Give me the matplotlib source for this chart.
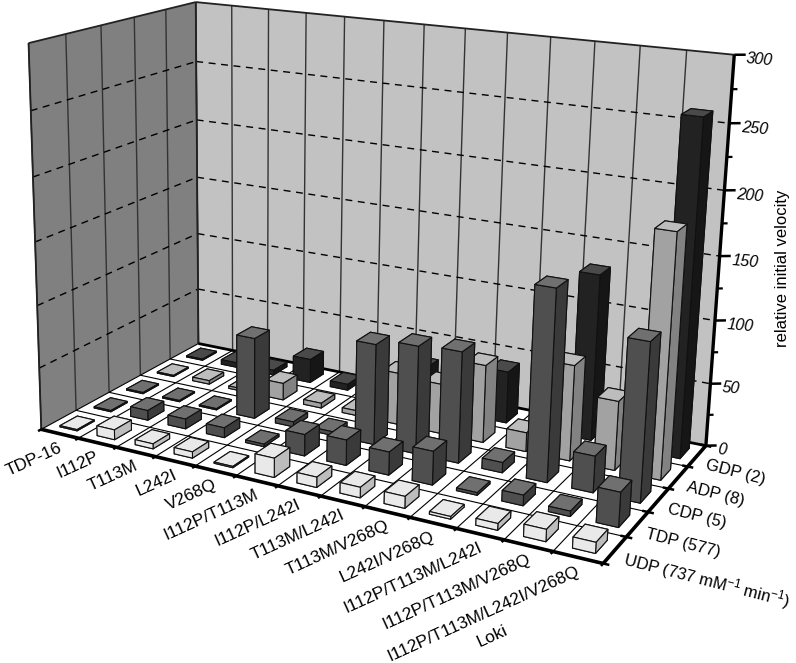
import matplotlib
matplotlib.use("Agg")
import matplotlib.pyplot as plt
import numpy as np
from mpl_toolkits.mplot3d.art3d import Line3DCollection, Poly3DCollection

plt.rcParams["font.family"] = ["Liberation Sans", "DejaVu Sans"]
plt.rcParams["mathtext.default"] = "regular"

variants = ["TDP-16", "I112P", "T113M", "L242I", "V268Q", "I112P/T113M", "I112P/L242I",
            "T113M/L242I", "T113M/V268Q", "L242I/V268Q", "I112P/T113M/L242I",
            "I112P/T113M/V268Q", "I112P/T113M/L242I/V268Q"]
substrates = ["UDP (737 mM$^{-1}$ min$^{-1}$)", "TDP (577)", "CDP (5)", "ADP (8)", "GDP (2)"]

udp = [1, 8, 4, 5, 1, 15, 8, 8, 9, 2, 5, 9, 8]
tdp = [1, 8, 8, 8, 2, 17, 20, 18, 26, 2, 8, 4, 26]
cdp = [1, 1, 1, 66, 4, 3, 80, 85, 87, 8, 147, 28, 120]
adp = [1, 3, 2, 14, 4, 4, 42, 40, 62, 15, 75, 54, 187]
gdp = [1, 4, 4, 20, 5, 5, 32, 5, 42, 5, 132, 5, 260]
rows = [udp, tdp, cdp, adp, gdp]

z_ticks = [0, 50, 100, 150, 200, 250, 300]
z_minor = [25, 75, 125, 175, 225, 275]

# top, left side, right side
row_colors = [("#e9e9e9", "#e9e9e9", "#bdbdbd"),
              ("#707070", "#4f4f4f", "#3a3a3a"),
              ("#707070", "#4f4f4f", "#3a3a3a"),
              ("#bdbdbd", "#a2a2a2", "#828282"),
              ("#4a4a4a", "#222222", "#161616")]

n_col = len(variants)
n_row = len(substrates)
W, H = 796, 663

# calibration of the view: box corners -> image pixels
calib = [((0, 0, 0), (41, 429)), ((n_col, 0, 0), (603, 564)), ((n_col, n_row, 0), (706, 446)),
         ((0, n_row, 0), (199, 344)), ((0, 0, 300), (29, 43)), ((0, n_row, 300), (195, 2)),
         ((n_col, n_row, 300), (735, 57)), ((n_col, n_row, 50), (710, 383)),
         ((n_col, n_row, 250), (729, 121))]


def fit_camera(points):
    A, b = [], []
    for (x, y, z), (u, v) in points:
        v = H - v
        A.append([x, y, z, 1, 0, 0, 0, 0, -u * x, -u * y, -u * z])
        A.append([0, 0, 0, 0, x, y, z, 1, -v * x, -v * y, -v * z])
        b += [u, v]
    p = np.linalg.lstsq(np.array(A, float), np.array(b, float), rcond=None)[0]
    return np.append(p, 1).reshape(3, 4)


cam = fit_camera(calib)


def label(x, y, z, text, dx=0, dy=0, **kw):
    u, v, w = cam @ [x, y, z, 1]
    fig.text((u / w + dx) / W, (v / w - dy) / H, text, **kw)


fig = plt.figure(figsize=(W / 100, H / 100), dpi=100)
ax = fig.add_axes([0, 0, 1, 1], projection="3d", computed_zorder=False)
ax.apply_aspect = lambda position=None: None
ax.set_axis_off()


def get_proj():
    m = ax.transData.inverted().get_matrix() @ cam
    return np.array([m[0], m[1], [-1.0, 1.0, -0.01, 0.0], m[2]])


ax.get_proj = get_proj


def wall(xs, ys, zs, color):
    ax.add_collection3d(Poly3DCollection([list(zip(xs, ys, zs))], facecolor=color,
                                         edgecolor="none", zorder=1))


def lines(segs, color="black", lw=1.0, ls="solid", zorder=3):
    ax.add_collection3d(Line3DCollection(segs, colors=color, linewidths=lw, linestyles=ls,
                                         zorder=zorder))


wall([0, 0, 0, 0], [0, n_row, n_row, 0], [0, 0, 300, 300], "#808080")
wall([0, n_col, n_col, 0], [n_row, n_row, n_row, n_row], [0, 0, 300, 300], "#c2c2c2")
wall([0, n_col, n_col, 0], [0, 0, n_row, n_row], [0, 0, 0, 0], "#ffffff")

# wall grid
lines([[(c, n_row, 0), (c, n_row, 300)] for c in range(n_col + 1)], color="#333333", zorder=2)
lines([[(0, r, 0), (0, r, 300)] for r in range(n_row + 1)], color="#333333", zorder=2)
dash = (0, (5, 4))
lines([[(0, 0, z), (0, n_row, z)] for z in z_ticks[1:-1]], ls=dash)
lines([[(0, n_row, z), (n_col, n_row, z)] for z in z_ticks[1:-1]], ls=dash)

# floor grid
lines([[(c, 0, 0), (c, n_row, 0)] for c in range(n_col + 1)], lw=0.8, zorder=4)
lines([[(0, r, 0), (n_col, r, 0)] for r in range(n_row + 1)], lw=0.8, zorder=4)

# outline and axes
lines([[(0, 0, 300), (0, n_row, 300)], [(0, n_row, 300), (n_col, n_row, 300)]], color="#222222", lw=1.3, zorder=5)
lines([[(0, 0, 0), (0, 0, 300)], [(0, n_row, 0), (0, n_row, 300)]], color="#222222", lw=1.3, zorder=5)
lines([[(0, n_row, 0), (n_col, n_row, 0)]], lw=2.0, zorder=5)
lines([[(0, 0, 0), (n_col, 0, 0)], [(n_col, 0, 0), (n_col, n_row, 0)]], lw=2.6, zorder=5)
lines([[(n_col, n_row, 0), (n_col, n_row, 300)]], lw=2.4, zorder=5)

lines([[(c, 0, 0), (c, -0.09, 0)] for c in range(n_col + 1)], lw=1.8, zorder=5)
lines([[(n_col - 0.12, r, 0), (n_col + 0.12, r, 0)] for r in range(n_row + 1)], lw=1.8, zorder=5)
lines([[(n_col, n_row, z), (n_col + 0.2, n_row + 0.1, z)] for z in z_ticks], lw=1.8, zorder=5)
lines([[(n_col, n_row, z), (n_col + 0.1, n_row + 0.05, z)] for z in z_minor], lw=1.6, zorder=5)

# bars, back to front
size_x, size_y = 0.46, 0.5
order = 10
for r in range(n_row - 1, -1, -1):
    top, left, right = row_colors[r]
    for c in range(n_col):
        face = [top, top, left, left, right, right]
        bar = ax.bar3d(c + 0.5 - size_x / 2, r + 0.5 - size_y / 2, 0, size_x, size_y, rows[r][c],
                       color=face, edgecolor="#111111", linewidth=0.8, shade=False)
        bar.set_zorder(order)
        order += 1

for c, name in enumerate(variants):
    label(c + 0.5, 0, 0, name, dx=1, dy=13, ha="right", va="center", rotation=24.5,
          rotation_mode="anchor", fontsize=12.5)
label(n_col, 0, 0, "Loki", dx=-111, dy=73, ha="center", va="center", rotation=24.5,
      rotation_mode="anchor", fontsize=12.5)
for r, name in enumerate(substrates):
    label(n_col, r + 0.5, 0, name, dx=9, dy=9, ha="left", va="center", rotation=-14.5,
          rotation_mode="anchor", fontsize=12)
for z in z_ticks:
    label(n_col, n_row, z, str(z), dx=12, dy=4, ha="left", va="center", rotation=-5,
          rotation_mode="anchor", fontsize=11.5, style="italic")
fig.text(782 / W, 1 - 268 / H, "relative initial velocity", rotation=90, ha="center",
         va="center", fontsize=12)

fig.savefig("out.png", dpi=100)
